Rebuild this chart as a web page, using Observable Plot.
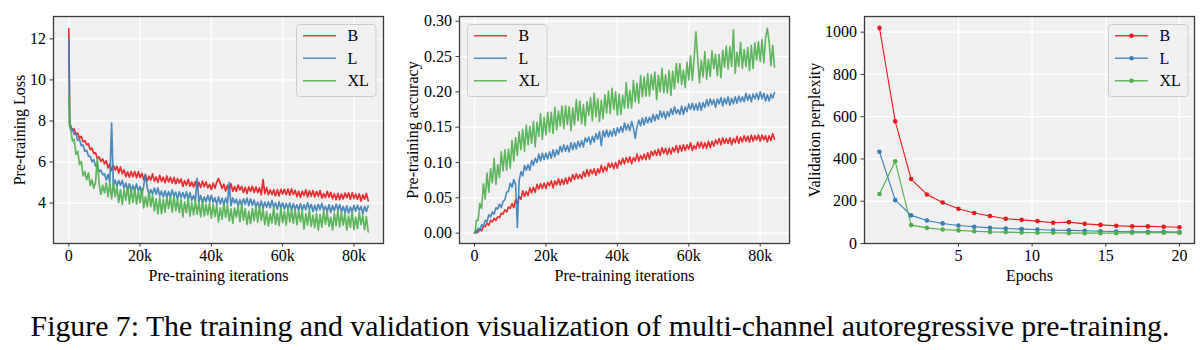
<!DOCTYPE html>
<html><head><meta charset="utf-8">
<script src="https://cdn.jsdelivr.net/npm/d3@7"></script>
<script src="https://cdn.jsdelivr.net/npm/@observablehq/plot@0.6"></script>
<style>
html,body{margin:0;padding:0;background:#fff;}
#wrap{position:relative;width:1200px;height:350px;font-family:"Liberation Serif",serif;}
.panel{position:absolute;top:0;}
.legend{position:absolute;}
#caption{position:absolute;left:0;width:1200px;top:308px;text-align:center;font-size:29.8px;line-height:36px;color:#000;font-family:"Liberation Serif",serif;white-space:nowrap;}
</style></head><body>
<div id="wrap"></div>
<script>
// ---------- data ----------
const series = ["B", "L", "XL"];
const colors = ["#e41a1c", "#377eb8", "#4daf4a"];

// pre-training iterations (sampling grid: 0, 250, then every 500)
const iterations = [0, 250, ...d3.range(500, 84001, 500)];

const lossB = [12.5, 7.8,
 7.78, 7.54, 7.61, 7.35, 7.41, 7.15, 7.25, 6.99, 7.04, 6.84,
 6.89, 6.61, 6.67, 6.42, 6.45, 6.17, 6.25, 6.03, 6.15, 5.91,
 6.06, 5.71, 5.90, 5.58, 5.83, 5.61, 5.79, 5.46, 5.76, 5.43,
 5.62, 5.29, 5.52, 5.26, 5.54, 5.28, 5.54, 5.23, 5.53, 5.24,
 5.45, 5.13, 5.38, 5.08, 5.31, 5.12, 5.42, 5.07, 5.27, 5.02,
 5.35, 5.06, 5.26, 4.99, 5.32, 5.03, 5.26, 4.98, 5.25, 4.94,
 5.19, 4.98, 5.18, 4.81, 5.10, 4.87, 5.16, 4.82, 5.03, 4.78,
 5.05, 4.72, 5.01, 4.76, 5.07, 4.80, 5.03, 4.74, 4.91, 4.66,
 4.97, 4.72, 5.01, 5.20, 4.96, 4.71, 4.92, 4.59, 4.86, 4.63,
 4.94, 4.57, 4.80, 4.57, 4.88, 4.64, 4.81, 4.52, 4.77, 4.46,
 4.79, 4.56, 4.82, 4.51, 4.78, 4.51, 4.74, 4.40, 5.14, 4.46,
 4.75, 4.41, 4.64, 4.42, 4.65, 4.35, 4.66, 4.35, 4.67, 4.44,
 4.67, 4.41, 4.68, 4.38, 4.69, 4.42, 4.62, 4.31, 4.57, 4.28,
 4.58, 4.37, 4.65, 4.30, 4.60, 4.33, 4.61, 4.30, 4.56, 4.33,
 4.61, 4.24, 4.46, 4.27, 4.57, 4.28, 4.52, 4.21, 4.45, 4.16,
 4.47, 4.17, 4.44, 4.20, 4.49, 4.26, 4.50, 4.19, 4.51, 4.22,
 4.44, 4.19, 4.45, 4.10, 4.40, 4.19, 4.47, 4.12];
const lossL = [12.0, 7.75,
 7.57, 7.61, 7.35, 7.38, 7.05, 7.09, 6.80, 6.83, 6.53, 6.57,
 6.29, 6.28, 6.01, 6.11, 5.81, 5.82, 5.53, 5.61, 5.38, 5.43,
 5.12, 5.40, 5.01, 7.90, 4.86, 5.12, 4.82, 5.10, 4.87, 5.11,
 4.73, 4.97, 4.61, 4.94, 4.61, 4.86, 4.60, 4.93, 4.59, 4.81,
 4.44, 4.82, 5.40, 4.77, 4.40, 4.65, 4.44, 4.73, 4.43, 4.74,
 4.35, 4.58, 4.29, 4.60, 4.28, 4.56, 4.28, 4.64, 4.35, 4.53,
 4.19, 4.55, 4.28, 4.51, 4.23, 4.55, 4.18, 4.50, 4.14, 4.37,
 4.09, 5.20, 4.05, 4.37, 4.01, 4.29, 4.06, 4.38, 4.08, 4.38,
 4.04, 4.25, 3.93, 4.30, 3.96, 4.24, 3.92, 4.24, 3.95, 5.00,
 3.86, 4.25, 4.00, 4.19, 3.86, 4.16, 3.89, 4.21, 3.94, 4.24,
 3.88, 4.21, 3.89, 4.15, 3.81, 4.05, 3.78, 4.10, 3.75, 4.05,
 3.80, 4.06, 3.77, 4.13, 3.80, 4.01, 3.70, 4.07, 3.75, 4.01,
 3.70, 3.98, 3.71, 4.01, 3.65, 3.97, 3.70, 3.92, 3.65, 3.97,
 3.66, 3.92, 3.67, 4.02, 3.71, 3.94, 3.59, 3.89, 3.62, 3.94,
 3.68, 3.98, 3.65, 3.84, 3.59, 3.92, 3.54, 3.87, 3.62, 3.95,
 3.66, 3.92, 3.58, 3.84, 3.53, 3.86, 3.50, 3.81, 3.56, 3.89,
 3.60, 3.90, 3.63, 3.83, 3.47, 3.84, 3.59, 3.86];
const lossXL = [9.3, 7.7,
 7.66, 7.03, 7.12, 6.37, 6.52, 5.88, 6.03, 5.32, 5.54, 5.14,
 5.47, 4.86, 5.13, 4.72, 5.01, 6.20, 4.93, 4.43, 4.87, 4.50,
 4.99, 4.31, 4.98, 4.20, 4.98, 4.31, 4.79, 4.02, 4.65, 3.93,
 4.66, 4.14, 4.82, 3.96, 4.69, 4.03, 4.71, 3.95, 4.58, 4.02,
 4.70, 3.77, 4.30, 3.82, 4.55, 3.82, 4.40, 3.62, 4.20, 3.47,
 4.26, 3.49, 4.18, 3.56, 4.30, 3.74, 4.32, 3.56, 4.34, 3.63,
 4.17, 3.55, 4.19, 3.32, 4.06, 3.54, 4.23, 3.36, 4.05, 3.43,
 4.12, 3.46, 4.04, 3.33, 4.12, 3.36, 3.95, 3.43, 4.02, 3.26,
 3.95, 3.34, 3.89, 3.08, 3.77, 3.21, 4.00, 3.30, 3.89, 3.13,
 3.72, 3.02, 3.76, 3.30, 3.85, 3.09, 3.93, 3.17, 3.72, 2.96,
 3.60, 3.00, 3.74, 3.14, 3.83, 3.07, 3.87, 3.16, 3.71, 2.95,
 3.59, 2.89, 3.48, 3.03, 3.82, 2.96, 3.51, 2.90, 3.75, 3.04,
 3.59, 2.93, 3.78, 3.07, 3.67, 3.01, 3.71, 2.95, 3.60, 3.09,
 3.64, 2.73, 3.48, 2.92, 3.67, 2.86, 3.41, 2.80, 3.50, 2.69,
 3.44, 2.83, 3.63, 2.97, 3.57, 2.87, 3.31, 2.71, 3.50, 2.90,
 3.65, 2.84, 3.54, 2.93, 3.48, 2.68, 3.37, 2.82, 3.61, 2.71,
 3.31, 2.76, 3.55, 2.95, 3.40, 2.70, 3.34, 2.59];

const accB = [0, 0.001,
 0.004, 0.001, 0.006, 0.003, 0.010, 0.009, 0.014, 0.011, 0.018, 0.016,
 0.021, 0.018, 0.023, 0.022, 0.028, 0.027, 0.033, 0.030, 0.037, 0.035,
 0.042, 0.036, 0.047, 0.042, 0.052, 0.048, 0.060, 0.052, 0.059, 0.053,
 0.064, 0.057, 0.065, 0.058, 0.069, 0.062, 0.070, 0.063, 0.071, 0.063,
 0.072, 0.067, 0.074, 0.064, 0.074, 0.068, 0.077, 0.068, 0.076, 0.069,
 0.078, 0.070, 0.079, 0.073, 0.083, 0.076, 0.084, 0.077, 0.083, 0.077,
 0.087, 0.080, 0.090, 0.081, 0.090, 0.084, 0.091, 0.082, 0.091, 0.085,
 0.096, 0.086, 0.094, 0.088, 0.099, 0.093, 0.099, 0.091, 0.100, 0.092,
 0.103, 0.097, 0.106, 0.098, 0.107, 0.100, 0.108, 0.098, 0.107, 0.102,
 0.112, 0.102, 0.110, 0.104, 0.112, 0.104, 0.114, 0.105, 0.116, 0.110,
 0.117, 0.110, 0.119, 0.110, 0.121, 0.113, 0.120, 0.111, 0.120, 0.112,
 0.121, 0.115, 0.124, 0.114, 0.124, 0.116, 0.125, 0.117, 0.125, 0.119,
 0.128, 0.117, 0.124, 0.119, 0.129, 0.121, 0.129, 0.120, 0.128, 0.120,
 0.130, 0.121, 0.130, 0.123, 0.132, 0.126, 0.134, 0.125, 0.135, 0.127,
 0.134, 0.127, 0.135, 0.125, 0.134, 0.128, 0.137, 0.127, 0.136, 0.129,
 0.138, 0.130, 0.137, 0.129, 0.139, 0.130, 0.138, 0.132, 0.139, 0.130,
 0.139, 0.132, 0.138, 0.129, 0.138, 0.131, 0.141, 0.133];
const accL = [0, 0.001,
 0.000, 0.007, 0.004, 0.012, 0.010, 0.018, 0.016, 0.026, 0.023, 0.030,
 0.027, 0.036, 0.034, 0.041, 0.036, 0.045, 0.047, 0.058, 0.059, 0.071,
 0.065, 0.076, 0.069, 0.008, 0.074, 0.087, 0.081, 0.096, 0.089, 0.097,
 0.089, 0.103, 0.096, 0.106, 0.100, 0.112, 0.102, 0.113, 0.104, 0.113,
 0.105, 0.115, 0.106, 0.118, 0.108, 0.118, 0.111, 0.123, 0.115, 0.125,
 0.116, 0.124, 0.115, 0.128, 0.118, 0.128, 0.119, 0.130, 0.122, 0.131,
 0.122, 0.135, 0.129, 0.136, 0.126, 0.137, 0.129, 0.141, 0.133, 0.144,
 0.124, 0.145, 0.136, 0.146, 0.136, 0.145, 0.137, 0.148, 0.138, 0.149,
 0.142, 0.151, 0.143, 0.156, 0.146, 0.154, 0.145, 0.158, 0.149, 0.134,
 0.150, 0.160, 0.152, 0.163, 0.153, 0.164, 0.156, 0.164, 0.157, 0.168,
 0.159, 0.168, 0.161, 0.173, 0.164, 0.172, 0.162, 0.172, 0.165, 0.176,
 0.168, 0.179, 0.169, 0.175, 0.168, 0.180, 0.168, 0.179, 0.172, 0.183,
 0.175, 0.184, 0.174, 0.183, 0.174, 0.185, 0.174, 0.185, 0.178, 0.189,
 0.180, 0.190, 0.182, 0.189, 0.178, 0.190, 0.183, 0.192, 0.180, 0.191,
 0.183, 0.193, 0.181, 0.191, 0.183, 0.193, 0.184, 0.194, 0.186, 0.193,
 0.186, 0.198, 0.188, 0.196, 0.186, 0.197, 0.190, 0.198, 0.189, 0.200,
 0.190, 0.198, 0.187, 0.196, 0.187, 0.197, 0.191, 0.199];
const accXL = [0, 0.005,
 0.018, 0.018, 0.042, 0.035, 0.070, 0.048, 0.085, 0.058, 0.091, 0.071,
 0.106, 0.069, 0.097, 0.079, 0.115, 0.088, 0.118, 0.089, 0.119, 0.092,
 0.131, 0.102, 0.135, 0.110, 0.143, 0.118, 0.147, 0.116, 0.153, 0.125,
 0.151, 0.127, 0.158, 0.122, 0.157, 0.137, 0.169, 0.133, 0.164, 0.139,
 0.171, 0.143, 0.171, 0.141, 0.178, 0.146, 0.173, 0.152, 0.180, 0.148,
 0.180, 0.154, 0.179, 0.145, 0.177, 0.153, 0.189, 0.159, 0.187, 0.155,
 0.182, 0.152, 0.186, 0.167, 0.192, 0.159, 0.198, 0.165, 0.190, 0.158,
 0.188, 0.162, 0.196, 0.170, 0.201, 0.169, 0.205, 0.175, 0.200, 0.167,
 0.197, 0.168, 0.195, 0.177, 0.213, 0.177, 0.202, 0.177, 0.216, 0.186,
 0.212, 0.184, 0.223, 0.193, 0.221, 0.194, 0.226, 0.194, 0.224, 0.203,
 0.228, 0.189, 0.223, 0.200, 0.233, 0.199, 0.224, 0.198, 0.230, 0.195,
 0.229, 0.204, 0.240, 0.213, 0.240, 0.210, 0.231, 0.206, 0.242, 0.217,
 0.251, 0.216, 0.248, 0.285, 0.247, 0.213, 0.245, 0.221, 0.257, 0.218,
 0.246, 0.222, 0.258, 0.233, 0.253, 0.223, 0.253, 0.220, 0.259, 0.235,
 0.265, 0.232, 0.264, 0.236, 0.288, 0.226, 0.256, 0.236, 0.270, 0.233,
 0.260, 0.236, 0.263, 0.230, 0.266, 0.233, 0.269, 0.245, 0.271, 0.243,
 0.274, 0.241, 0.276, 0.290, 0.270, 0.237, 0.266, 0.235];

const epochs = [-0.36, 0.71, 1.79, 2.86, 3.93, 5, 6.07, 7.14, 8.21, 9.29, 10.36, 11.43, 12.5, 13.57, 14.64, 15.71, 16.79, 17.86, 18.93, 20];
const pplB  = [1020, 578, 305, 232, 194, 164, 144, 130, 117, 112, 106, 98, 101, 93, 88, 84, 81, 81, 79, 77];
const pplL  = [434, 205, 133, 109, 95, 85, 79, 74, 71, 68, 66, 63, 62, 60, 58, 57, 55, 55, 55, 54];
const pplXL = [234, 389, 87, 74, 66, 62, 58, 55, 54, 52, 51, 51, 49, 49, 49, 49, 51, 51, 51, 51];

const iterTicks = [0, 20000, 40000, 60000, 80000];
const lossTicks = [4, 6, 8, 10, 12];
const accTicks = [0, 0.05, 0.10, 0.15, 0.20, 0.25, 0.30];
const epochTicks = [5, 10, 15, 20];
const pplTicks = [0, 200, 400, 600, 800, 1000];
const captionText = "Figure 7: The training and validation visualization of multi-channel autoregressive pre-training.";

// ---------- build ----------
function toRows(xs, arrays) {
  const rows = [];
  arrays.forEach((arr, k) => {
    const n = Math.min(xs.length, arr.length);
    for (let i = 0; i < n; i++) rows.push({x: xs[i], y: arr[i], s: series[k]});
  });
  return rows;
}

const BG = "#f0f0f0", FRAME = "#3a3a3a", FONT = "Liberation Serif";
const kFmt = d => d === 0 ? "0" : (d / 1000) + "k";

function panel(o) {
  const marks = [
    Plot.frame({fill: BG, stroke: "none"}),
    Plot.gridX(o.xTicks, {stroke: "white", strokeOpacity: 1, strokeWidth: 1.3}),
    Plot.gridY(o.yTicks, {stroke: "white", strokeOpacity: 1, strokeWidth: 1.3}),
    Plot.line(o.rows, {x: "x", y: "y", z: "s", stroke: "s", strokeWidth: o.sw, strokeOpacity: o.so,
      strokeLinejoin: "round", strokeLinecap: "round"})
  ];
  if (o.dots) marks.push(Plot.dot(o.rows, {x: "x", y: "y", fill: "s", r: 2.3}));
  marks.push(Plot.frame({stroke: FRAME, strokeWidth: 1.3}));
  marks.push(Plot.axisX(o.xTicks, {tickSize: 3.5, tickPadding: 3, tickFormat: o.xFmt, stroke: FRAME,
    fill: "#000", fontSize: 16, fontFamily: FONT, label: o.xLabel, labelAnchor: "center", labelArrow: "none", labelOffset: 37}));
  marks.push(Plot.axisY(o.yTicks, {tickSize: 3.5, tickPadding: 4, tickFormat: o.yFmt, stroke: FRAME,
    fill: "#000", fontSize: 16, fontFamily: FONT, label: o.yLabel, labelAnchor: "center", labelArrow: "none", labelOffset: o.yLabelOffset}));
  return Plot.plot({
    width: 400, height: 290,
    marginLeft: o.ml, marginRight: o.mr, marginTop: 16, marginBottom: 47,
    x: {domain: o.xDomain},
    y: {domain: o.yDomain},
    color: {domain: series, range: colors},
    style: {fontFamily: FONT, fontSize: "16px", background: "transparent", overflow: "visible", color: "#000"},
    marks
  });
}

const wrap = document.getElementById("wrap");
function place(node, left) {
  const d = document.createElement("div");
  d.className = "panel";
  d.style.left = left + "px";
  d.appendChild(node);
  wrap.appendChild(d);
}

place(panel({
  rows: toRows(iterations, [lossB, lossL, lossXL]),
  ml: 53, mr: 17, xDomain: [-4300, 88300], yDomain: [2.03, 13.09],
  xTicks: iterTicks, yTicks: lossTicks, xFmt: kFmt, yFmt: d3.format("d"),
  xLabel: "Pre-training iterations", yLabel: "Pre-training Loss", yLabelOffset: 40, sw: 1.7, so: 0.9
}), 0);

place(panel({
  rows: toRows(iterations, [accB, accL, accXL]),
  ml: 59, mr: 11, xDomain: [-4200, 88200], yDomain: [-0.0147, 0.3067],
  xTicks: iterTicks, yTicks: accTicks, xFmt: kFmt, yFmt: d3.format(".2f"),
  xLabel: "Pre-training iterations", yLabel: "Pre-training accuracy", yLabelOffset: 53, sw: 1.6, so: 0.9
}), 400);

place(panel({
  rows: toRows(epochs, [pplB, pplL, pplXL]),
  ml: 64, mr: 6, xDomain: [-1.375, 21.02], yDomain: [0, 1074],
  xTicks: epochTicks, yTicks: pplTicks, xFmt: d3.format("d"), yFmt: d3.format("d"),
  xLabel: "Epochs", yLabel: "Validation perplexity", yLabelOffset: 56, sw: 1.1, so: 1, dots: true
}), 800);

// legends (HTML overlays)
function legend(left, top, dots) {
  const ns = "http://www.w3.org/2000/svg";
  const svg = document.createElementNS(ns, "svg");
  svg.setAttribute("width", 82); svg.setAttribute("height", 74);
  svg.setAttribute("class", "legend");
  svg.style.left = left + "px"; svg.style.top = top + "px";
  const box = document.createElementNS(ns, "rect");
  Object.entries({x: 0.5, y: 0.5, width: 79.5, height: 72, rx: 3, fill: BG, "fill-opacity": 0.85, stroke: "#cccccc", "stroke-width": 1})
    .forEach(([k, v]) => box.setAttribute(k, v));
  svg.appendChild(box);
  series.forEach((s, i) => {
    const cy = 11.7 + i * 22.5;
    const ln = document.createElementNS(ns, "line");
    Object.entries({x1: 7, x2: 40, y1: cy, y2: cy, stroke: colors[i], "stroke-width": 1.5, "stroke-opacity": 0.85})
      .forEach(([k, v]) => ln.setAttribute(k, v));
    svg.appendChild(ln);
    if (dots) {
      const c = document.createElementNS(ns, "circle");
      Object.entries({cx: 23.5, cy, r: 2.3, fill: colors[i]}).forEach(([k, v]) => c.setAttribute(k, v));
      svg.appendChild(c);
    }
    const t = document.createElementNS(ns, "text");
    Object.entries({x: 51.5, y: cy, "dominant-baseline": "central", "font-family": FONT, "font-size": 16, fill: "#000"})
      .forEach(([k, v]) => t.setAttribute(k, v));
    t.textContent = s;
    svg.appendChild(t);
  });
  wrap.appendChild(svg);
}
legend(295.5, 24, false);
legend(466.5, 24, false);
legend(1108, 24, true);

const cap = document.createElement("div");
cap.id = "caption";
cap.textContent = captionText;
wrap.appendChild(cap);
</script></body></html>
